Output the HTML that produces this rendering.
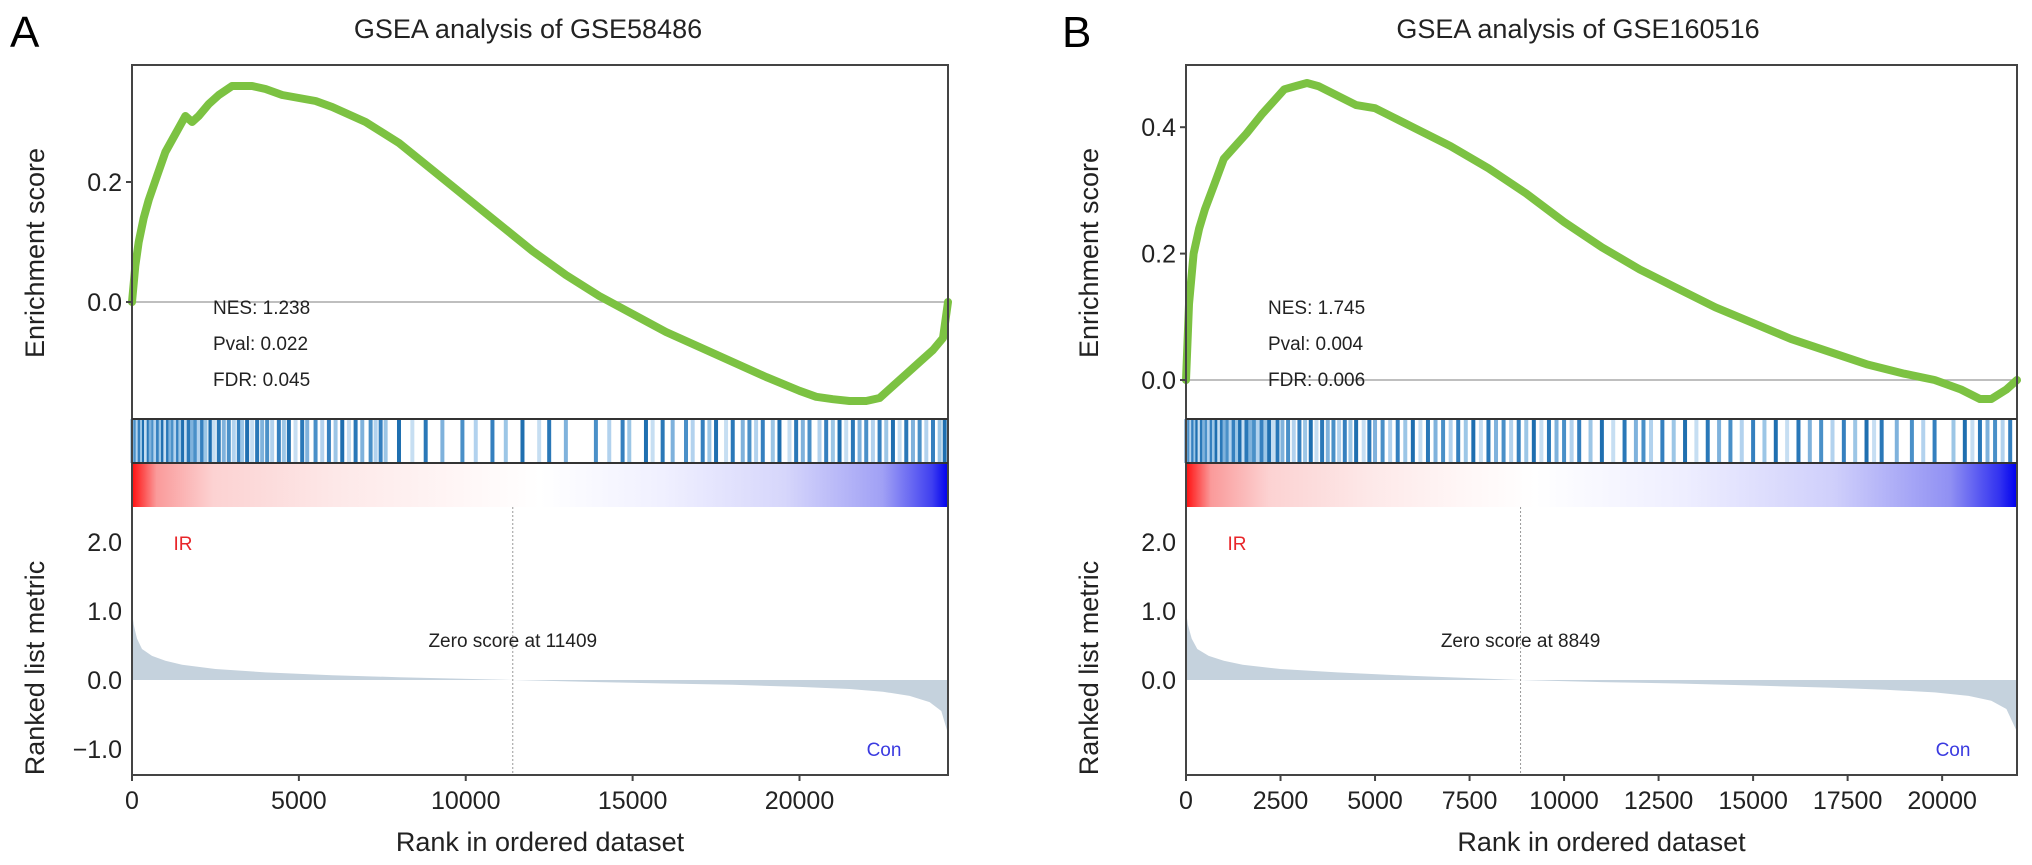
<!DOCTYPE html>
<html><head><meta charset="utf-8"><style>
html,body{margin:0;padding:0;background:#fff;}
svg{display:block;font-family:"Liberation Sans",Arial,sans-serif;}
</style></head><body>
<svg id="chart" width="2032" height="865" viewBox="0 0 2032 865">
<defs>
<linearGradient id="rankGradA" x1="0" x2="1" y1="0" y2="0">
<stop offset="0" stop-color="#ff1010"/><stop offset="0.03" stop-color="#fa9a9a"/><stop offset="0.1" stop-color="#fcd2d2"/><stop offset="0.25" stop-color="#fde8e8"/><stop offset="0.4" stop-color="#fff6f6"/><stop offset="0.5" stop-color="#ffffff"/><stop offset="0.65" stop-color="#f0f0ff"/><stop offset="0.8" stop-color="#d6d6fb"/><stop offset="0.92" stop-color="#a0a0f5"/><stop offset="0.98" stop-color="#4040f0"/><stop offset="1" stop-color="#0000ee"/>
</linearGradient>
<linearGradient id="rankGradB" x1="0" x2="1" y1="0" y2="0">
<stop offset="0" stop-color="#ff1010"/><stop offset="0.03" stop-color="#fa9a9a"/><stop offset="0.1" stop-color="#fcd2d2"/><stop offset="0.22" stop-color="#fde8e8"/><stop offset="0.33" stop-color="#fff6f6"/><stop offset="0.42" stop-color="#ffffff"/><stop offset="0.6" stop-color="#eeeeff"/><stop offset="0.78" stop-color="#cfcffb"/><stop offset="0.92" stop-color="#9090f3"/><stop offset="0.98" stop-color="#3030f0"/><stop offset="1" stop-color="#0000ee"/>
</linearGradient>
</defs>
<g id="panelA"></g>
<g id="panelB"></g>
</svg>
<script>
// ---- Panel A data ----
const nGenesA = 24450;
const esRanksA = [0,100,200,350,500,750,1000,1300,1600,1800,2000,2300,2600,3000,3300,3600,4000,4500,5000,5500,6000,7000,8000,9000,10000,11000,12000,13000,14000,15000,16000,17000,18000,19000,20000,20500,21000,21500,22000,22400,22800,23200,23600,24000,24300,24450];
const esValuesA = [0,0.06,0.1,0.14,0.17,0.21,0.25,0.28,0.31,0.3,0.31,0.33,0.345,0.36,0.36,0.36,0.355,0.345,0.34,0.335,0.325,0.3,0.265,0.22,0.175,0.13,0.085,0.045,0.01,-0.02,-0.05,-0.075,-0.1,-0.125,-0.148,-0.158,-0.162,-0.165,-0.165,-0.16,-0.14,-0.12,-0.1,-0.08,-0.06,0];
const metricRanksA = [0,50,150,300,600,1000,1500,2500,4000,6000,8000,11409,14000,16000,18000,20000,21500,22500,23300,23900,24250,24450];
const metricValuesA = [1.0,0.8,0.6,0.45,0.35,0.28,0.22,0.16,0.11,0.07,0.04,0,-0.03,-0.05,-0.07,-0.1,-0.13,-0.17,-0.23,-0.32,-0.45,-0.78];
const hitsA = [20,60,110,170,230,300,360,420,500,560,640,700,780,860,930,1000,1080,1150,1230,1300,1380,1450,1530,1620,1700,1800,1900,2000,2100,2200,2350,2450,2600,2750,2900,3050,3200,3300,3450,3600,3750,3900,4050,4200,4400,4550,4700,4900,5100,5250,5500,5700,5900,6100,6300,6500,6700,6900,7150,7300,7450,7600,8000,8400,8800,9300,9900,10300,10800,11200,11700,12200,12500,13000,13900,14300,14700,14900,15400,15600,15900,16200,16600,16800,17100,17300,17500,17800,18000,18300,18500,18700,18900,19200,19400,19700,19900,20100,20300,20600,20800,21000,21200,21400,21600,21800,22000,22200,22400,22600,22800,23000,23200,23400,23600,23800,24000,24200,24350];
const xTicksA = [0,5000,10000,15000,20000];
const esTicksA = [0.0,0.2];
const metricTicksA = [-1.0,0.0,1.0,2.0];
const zeroScoreA = 11409;

// ---- Panel B data ----
const nGenesB = 21980;
const esRanksB = [0,80,200,350,500,750,1000,1300,1600,2000,2300,2600,2900,3200,3500,4000,4500,5000,5500,6000,7000,8000,9000,10000,11000,12000,13000,14000,15000,16000,17000,18000,19000,19800,20500,21000,21300,21700,21980];
const esValuesB = [0,0.12,0.2,0.24,0.27,0.31,0.35,0.37,0.39,0.42,0.44,0.46,0.465,0.47,0.465,0.45,0.435,0.43,0.415,0.4,0.37,0.335,0.295,0.25,0.21,0.175,0.145,0.115,0.09,0.065,0.045,0.025,0.01,0.0,-0.015,-0.03,-0.03,-0.015,0];
const metricRanksB = [0,50,150,300,600,1000,1500,2500,4000,6000,8849,11000,13000,15000,17000,18500,19800,20700,21300,21700,21980];
const metricValuesB = [1.0,0.8,0.6,0.45,0.35,0.28,0.22,0.16,0.11,0.06,0,-0.03,-0.05,-0.08,-0.11,-0.14,-0.18,-0.23,-0.3,-0.42,-0.75];
const hitsB = [15,50,90,140,190,250,300,360,420,480,550,610,680,740,810,880,950,1020,1100,1180,1260,1350,1430,1520,1600,1700,1800,1900,2000,2100,2200,2300,2420,2550,2700,2850,3000,3150,3300,3450,3600,3750,3900,4050,4200,4350,4500,4700,4850,5000,5200,5400,5600,5800,6000,6200,6400,6600,6800,7000,7200,7400,7600,7800,8000,8200,8400,8600,8800,9000,9200,9400,9600,9800,10000,10200,10400,10700,11000,11300,11600,11900,12100,12300,12600,12900,13200,13500,13800,14100,14400,14700,15000,15300,15600,15900,16200,16500,16800,17100,17400,17700,18000,18200,18400,18800,19200,19500,19800,20300,20600,20800,21000,21200,21400,21600,21800];
const xTicksB = [0,2500,5000,7500,10000,12500,15000,17500,20000];
const esTicksB = [0.0,0.2,0.4];
const metricTicksB = [0.0,1.0,2.0];
const zeroScoreB = 8849;

const NS = "http://www.w3.org/2000/svg";
const hitColors = ['#2a78b8','#9cc6e6','#4a90c8','#c6def2','#3580bf','#7fb2dc','#1f6fb0','#b2d2ee'];
function mk(parent, tag, attrs, text){
  const e = document.createElementNS(NS, tag);
  for (const k in attrs) e.setAttribute(k, attrs[k]);
  if (text !== undefined) e.textContent = text;
  parent.appendChild(e);
  return e;
}

function drawPanel(g, cfg){
  const L = cfg.left, R = cfg.right, T = 65, HIT0 = 419, HIT1 = 463, GR1 = 507, B = 775;
  const x = v => L + (v / cfg.n) * (R - L);
  const yEs = v => cfg.es0 - v * cfg.esScale;
  const yM = v => 680 - v * 69;

  const letter = mk(g,'text',{x:cfg.letterX,y:47,'font-size':44,fill:'#000'},cfg.letter);
  
  
  const title = mk(g,'text',{x:cfg.titleX,y:38,'font-size':27,'text-anchor':'middle',fill:'#222'},cfg.title);
  
  

  const zl = mk(g,'line',{x1:L,x2:R,y1:yEs(0),y2:yEs(0),stroke:'#aaa','stroke-width':1.5});
  
  

  let d = '';
  cfg.esRanks.forEach((r,i)=>{ d += (i?'L':'M') + x(r).toFixed(1) + ',' + yEs(cfg.esValues[i]).toFixed(1); });
  const curve = mk(g,'path',{d:d,fill:'none',stroke:'#7cc242','stroke-width':8,'stroke-linejoin':'round','stroke-linecap':'round'});
  
  

  cfg.stats.forEach((s,i)=>{
    const t = mk(g,'text',{x:cfg.statsX,y:314+i*36,'font-size':19,fill:'#222'},s);
    
    
  });

  cfg.hits.forEach((h,i)=>{
    const ln = mk(g,'line',{x1:x(h),x2:x(h),y1:HIT0,y2:HIT1,stroke:hitColors[(i*5)%hitColors.length],'stroke-width':4});
    
    
  });

  const gr = mk(g,'rect',{x:L,y:HIT1,width:R-L,height:GR1-HIT1,fill:cfg.grad});
  
  

  let md = 'M' + x(0) + ',' + yM(0);
  cfg.mRanks.forEach((r,i)=>{ md += 'L' + x(r).toFixed(1) + ',' + yM(cfg.mValues[i]).toFixed(1); });
  md += 'L' + x(cfg.n) + ',' + yM(0) + 'Z';
  const area = mk(g,'path',{d:md,fill:'#c5d2dd',stroke:'none'});
  
  

  const zx = x(cfg.zero);
  const zline = mk(g,'line',{x1:zx,x2:zx,y1:GR1,y2:B,stroke:'#999','stroke-width':1,'stroke-dasharray':'2,2'});
  
  
  const zt = mk(g,'text',{x:zx,y:647,'font-size':19,'text-anchor':'middle',fill:'#222'},'Zero score at ' + cfg.zero);
  
  

  const ir = mk(g,'text',{x:L+51,y:550,'font-size':19,'text-anchor':'middle',fill:'#e8262a'},'IR');
  
  
  const con = mk(g,'text',{x:R-64,y:756,'font-size':19,'text-anchor':'middle',fill:'#3a3ae0'},'Con');
  
  

  const fr = mk(g,'rect',{x:L,y:T,width:R-L,height:B-T,fill:'none',stroke:'#444','stroke-width':2});
  
  
  [HIT0,HIT1].forEach(yy=>{
    const l = mk(g,'line',{x1:L,x2:R,y1:yy,y2:yy,stroke:'#333','stroke-width':2});
    
    
  });

  cfg.esTicks.forEach(v=>{
    const tk = mk(g,'line',{x1:L-6,x2:L,y1:yEs(v),y2:yEs(v),stroke:'#444','stroke-width':2});
    
    
    const t = mk(g,'text',{x:L-10,y:yEs(v)+9,'font-size':25,'text-anchor':'end',fill:'#222'},v.toFixed(1));
    
    
  });
  cfg.mTicks.forEach(v=>{
    const t = mk(g,'text',{x:L-10,y:yM(v)+9,'font-size':25,'text-anchor':'end',fill:'#222'},(v<0?'\u2212':'')+Math.abs(v).toFixed(1));
    
    
  });
  cfg.xTicks.forEach(v=>{
    const tk = mk(g,'line',{x1:x(v),x2:x(v),y1:B,y2:B+6,stroke:'#444','stroke-width':2});
    
    
    const t = mk(g,'text',{x:x(v),y:B+34,'font-size':25,'text-anchor':'middle',fill:'#222'},String(v));
    
    
  });

  const yt1 = mk(g,'text',{x:0,y:0,'font-size':27,'text-anchor':'middle',fill:'#222',transform:'translate('+(cfg.yTitleX)+',253) rotate(-90)'},'Enrichment score');
  
  
  const yt2 = mk(g,'text',{x:0,y:0,'font-size':27,'text-anchor':'middle',fill:'#222',transform:'translate('+(cfg.yTitleX)+',668) rotate(-90)'},'Ranked list metric');
  
  
  const xt = mk(g,'text',{x:(L+R)/2,y:851,'font-size':27,'text-anchor':'middle',fill:'#222'},'Rank in ordered dataset');
  
  
}

drawPanel(document.getElementById('panelA'),{
  left:132,right:948,n:nGenesA,es0:302,esScale:600,letter:'A',letterX:10,title:'GSEA analysis of GSE58486',titleX:528,
  esRanks:esRanksA,esValues:esValuesA,mRanks:metricRanksA,mValues:metricValuesA,hits:hitsA,
  xTicks:xTicksA,esTicks:esTicksA,mTicks:metricTicksA,zero:zeroScoreA,grad:'url(#rankGradA)',
  stats:['NES: 1.238','Pval: 0.022','FDR: 0.045'],statsX:213,yTitleX:44
});
drawPanel(document.getElementById('panelB'),{
  left:1186,right:2017,n:nGenesB,es0:380,esScale:632,letter:'B',letterX:1062,title:'GSEA analysis of GSE160516',titleX:1578,
  esRanks:esRanksB,esValues:esValuesB,mRanks:metricRanksB,mValues:metricValuesB,hits:hitsB,
  xTicks:xTicksB,esTicks:esTicksB,mTicks:metricTicksB,zero:zeroScoreB,grad:'url(#rankGradB)',
  stats:['NES: 1.745','Pval: 0.004','FDR: 0.006'],statsX:1268,yTitleX:1098
});
</script>
</body></html>
